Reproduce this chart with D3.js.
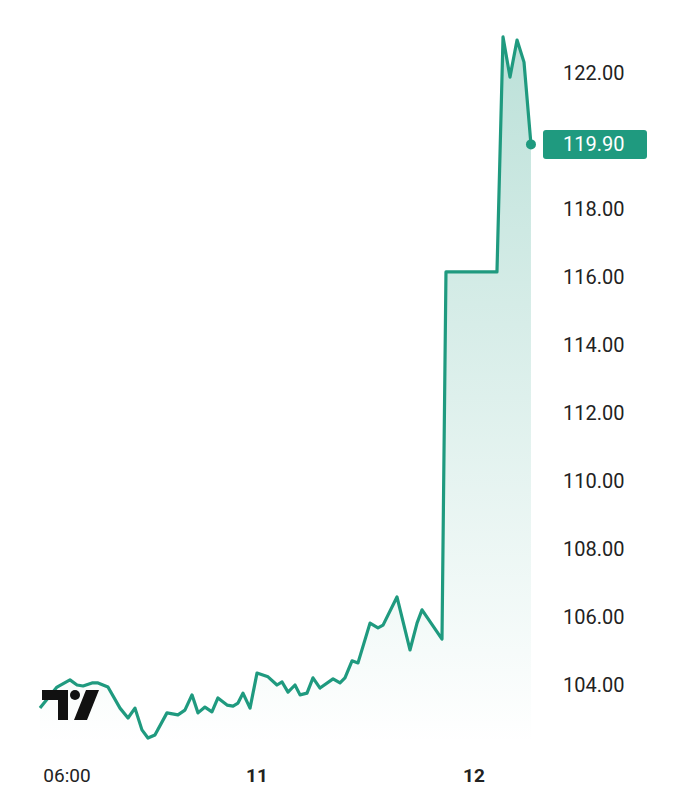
<!DOCTYPE html>
<html><head><meta charset="utf-8">
<script src="https://cdn.jsdelivr.net/npm/d3@7"></script>
<style>body{margin:0;background:#fff;font-family:Roboto,"Noto Sans",sans-serif}</style>
</head><body><div id="chart"></div>
<script>
// hours since day 10, 00:00
const hours = [3.44,5.05,6.28,6.95,7.52,8.37,8.94,9.88,11.02,11.78,12.44,13.1,13.67,14.33,15.47,16.51,17.17,17.84,18.41,19.07,19.73,20.3,21.16,21.73,22.2,22.67,23.34,24.0,25.22,26.21,26.77,27.43,28.2,28.76,29.53,30.19,30.97,32.41,33.18,33.73,34.51,35.17,36.5,37.38,37.94,39.48,40.92,41.7,42.25,44.46,44.9,50.54,51.21,51.98,52.76,53.53,54.3];
const prices = [103.32,103.94,104.15,104.0,103.97,104.06,104.06,103.94,103.32,103.03,103.32,102.68,102.44,102.53,103.18,103.12,103.26,103.71,103.18,103.35,103.21,103.62,103.41,103.38,103.47,103.76,103.32,104.35,104.24,104.0,104.09,103.79,104.0,103.71,103.76,104.21,103.91,104.18,104.06,104.21,104.71,104.65,105.82,105.68,105.76,106.59,105.03,105.82,106.21,105.35,116.15,116.15,123.06,121.88,122.97,122.32,119.9];
const yTicks = [104,106,108,110,112,114,116,118,122];
const xTicks = [6, 24, 48];
const xTickLabels = ['06:00', '11', '12'];
const lastPrice = 119.90;

const W = 694, H = 800, green = '#1f9a7f';
const svg = d3.select('#chart').append('svg').attr('width', W).attr('height', H);

// the time axis is compressed past day 11 (market gap)
const x = d3.scaleLinear().domain([6, 24, 48]).range([67, 257, 474]);
const y = d3.scaleLinear().domain([104, 122]).range([685, 73]);

const grad = svg.append('defs').append('linearGradient').attr('id', 'fill')
  .attr('x1', 0).attr('x2', 0)
  .attr('gradientUnits', 'userSpaceOnUse')
  .attr('y1', y(123)).attr('y2', 745);
grad.append('stop').attr('offset', 0).attr('stop-color', green).attr('stop-opacity', 0.3);
grad.append('stop').attr('offset', 1).attr('stop-color', green).attr('stop-opacity', 0);

const pts = hours.map((h, i) => [h, prices[i]]);
svg.append('path').datum(pts)
  .attr('d', d3.area().x(d => x(d[0])).y0(745).y1(d => y(d[1])))
  .attr('fill', 'url(#fill)');
svg.append('path').datum(pts)
  .attr('d', d3.line().x(d => x(d[0])).y(d => y(d[1])))
  .attr('fill', 'none').attr('stroke', green).attr('stroke-width', 3.2)
  .attr('stroke-linejoin', 'round');

const last = pts[pts.length - 1];
svg.append('circle').attr('cx', x(last[0])).attr('cy', y(last[1])).attr('r', 5).attr('fill', green);

// y axis labels
svg.selectAll('.yl').data(yTicks).enter().append('text')
  .attr('x', 563).attr('y', d => y(d)).attr('dy', '0.35em')
  .attr('font-size', 20).attr('fill', '#222').text(d => d.toFixed(2));

// last price badge
svg.append('rect').attr('x', 543).attr('y', y(lastPrice) - 14.5).attr('width', 104).attr('height', 29)
  .attr('rx', 3).attr('fill', green);
svg.append('text').attr('x', 563).attr('y', y(lastPrice)).attr('dy', '0.35em')
  .attr('font-size', 20).attr('fill', '#fff').text(lastPrice.toFixed(2));

// x axis labels
svg.selectAll('.xl').data(xTicks).enter().append('text')
  .attr('x', d => x(d)).attr('y', 782).attr('text-anchor', 'middle')
  .attr('font-size', 19).attr('fill', '#222')
  .attr('font-weight', (d, i) => i > 0 ? 'bold' : 'normal')
  .text((d, i) => xTickLabels[i]);

// TradingView logo
const logo = svg.append('g').attr('fill', '#111');
logo.append('path').attr('d', 'M42,690H68V720H58V700H42Z');
logo.append('circle').attr('cx', 75).attr('cy', 695).attr('r', 5);
logo.append('path').attr('d', 'M86,690H99L87,720H74Z');
</script></body></html>
